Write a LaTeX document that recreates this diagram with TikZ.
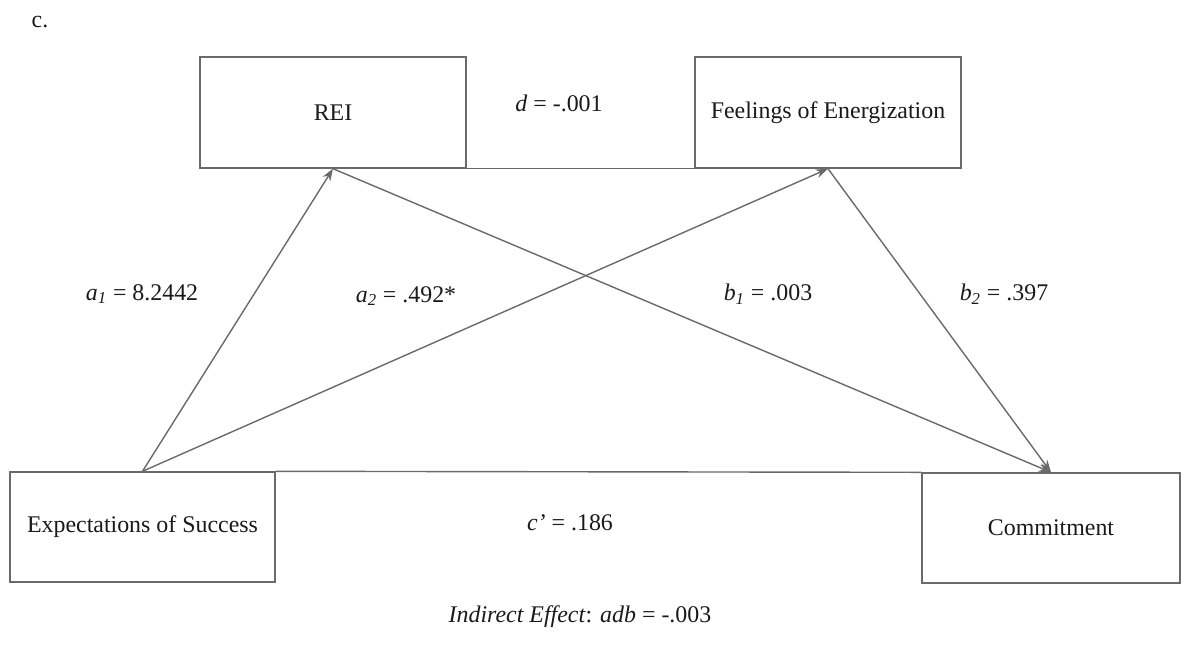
\documentclass[tikz,border=0pt]{standalone}
\usepackage{fontspec}
\setmainfont{Liberation Serif}
\usetikzlibrary{arrows.meta,positioning}
\definecolor{linegray}{HTML}{6A6A6A}
\definecolor{textblack}{HTML}{1A1A1A}

\begin{document}
\begin{tikzpicture}[x=0.02cm,y=-0.02cm, every node/.style={align=center,text=textblack,font=\fontsize{13.6}{16}\selectfont}]
\useasboundingbox (0,0) rectangle (1191,646);
\node (tag) at (40,22) {c.};
\node[draw=linegray,line width=0.8pt,minimum width=5.32cm,minimum height=2.22cm] (rei) at (333,112.5) {REI};
\node[draw=linegray,line width=0.8pt,minimum width=5.32cm,minimum height=2.22cm] (feel) at (828,112.5) {Feelings of Energization};
\node[draw=linegray,line width=0.8pt,minimum width=5.3cm,minimum height=2.2cm] (expect) at (142.5,527) {Expectations of Success};
\node[draw=linegray,line width=0.8pt,minimum width=5.16cm,minimum height=2.2cm] (commit) at (1051,528) {Commitment};
\node (dlab) at (559,103) {\textit{d} = -.001};
\node (a1lab) at (142,294) {\textit{a}\textsubscript{\textit{1}} = 8.2442};
\node (a2lab) at (406,296) {\textit{a}\textsubscript{\textit{2}} = .492*};
\node (b1lab) at (768,294) {\textit{b}\textsubscript{\textit{1}} = .003};
\node (b2lab) at (1004,294) {\textit{b}\textsubscript{\textit{2}} = .397};
\node (clab) at (570,523) {\textit{c'} = .186};
\node (indirect) at (580,617) {\textit{Indirect Effect}: \textit{adb} = -.003};
\draw[linegray,line width=0.8pt] (rei.south east)--(feel.south west);
\draw[linegray,line width=0.8pt] (expect.north east)--(commit.north west);
\draw[-{Stealth[length=7pt,width=5pt]},linegray,line width=0.8pt] (expect.north)--(rei.south);
\draw[-{Stealth[length=7pt,width=5pt]},linegray,line width=0.8pt] (expect.north)--(feel.south);
\draw[-{Stealth[length=7pt,width=5pt]},linegray,line width=0.8pt] (rei.south)--(commit.north);
\draw[-{Stealth[length=7pt,width=5pt]},linegray,line width=0.8pt] (feel.south)--(commit.north);
\end{tikzpicture}
\end{document}
